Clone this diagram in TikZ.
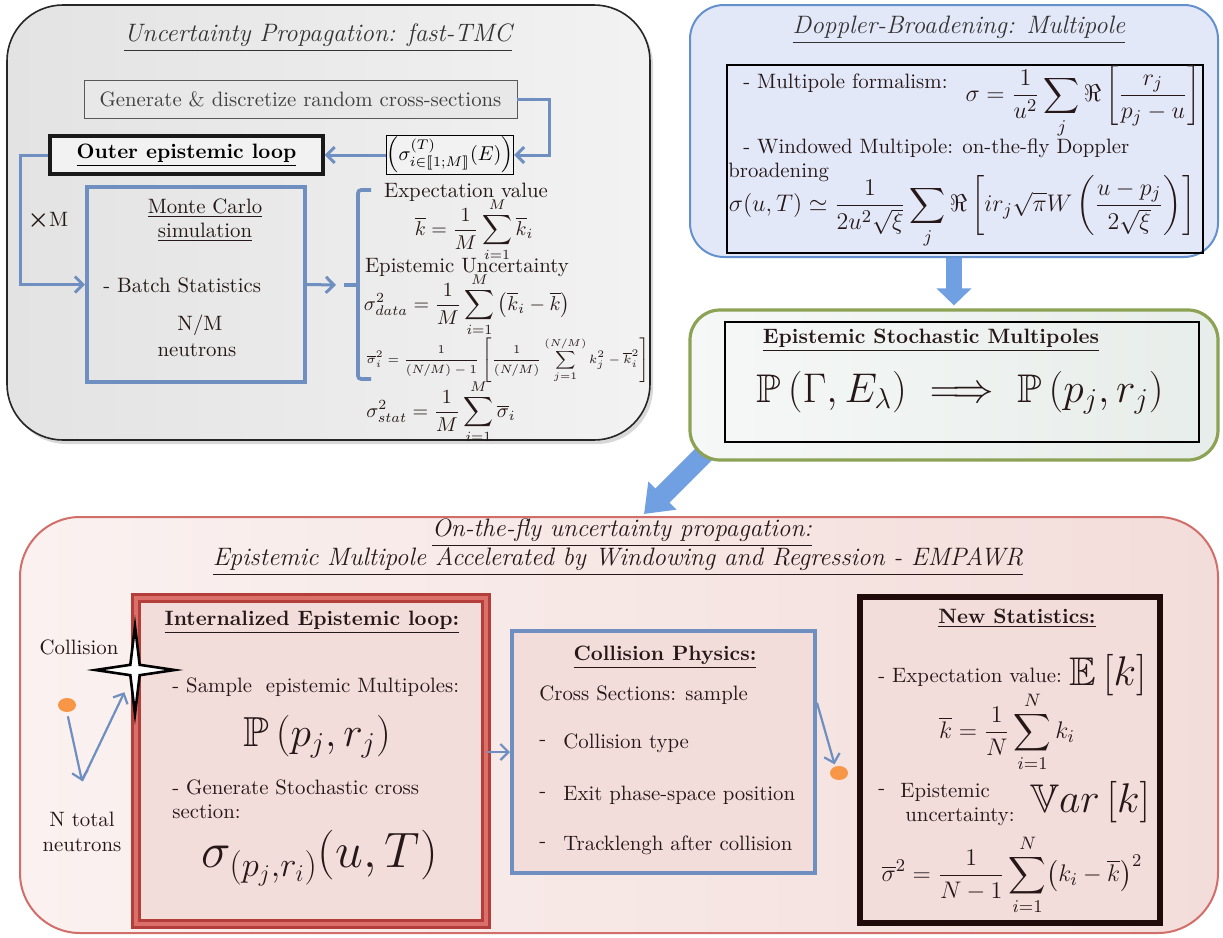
\documentclass[tikz,border=0pt]{standalone}
\usepackage{amsmath,amssymb,stmaryrd}
\usetikzlibrary{arrows.meta,shapes.geometric,calc,shadows,backgrounds}
\definecolor{mblue}{RGB}{110,143,192}
\definecolor{fatblue}{RGB}{112,160,225}
\definecolor{dopfill}{RGB}{227,232,249}
\definecolor{dopborder}{RGB}{100,145,205}
\definecolor{greenborder}{RGB}{140,162,85}
\definecolor{greenfill}{RGB}{231,237,234}
\definecolor{pinkfill}{RGB}{243,221,218}
\definecolor{pinkborder}{RGB}{210,110,105}
\definecolor{redbox}{RGB}{180,62,58}
\definecolor{redlight}{RGB}{218,112,105}
\definecolor{dotorange}{RGB}{246,150,70}
\definecolor{txt}{RGB}{38,24,24}
\definecolor{nsblack}{RGB}{32,10,10}
\newcommand{\basefs}{\fontsize{10.4}{12.5}\selectfont}
\newcommand{\titlefs}{\fontsize{12.6}{15}\selectfont\itshape}
\tikzset{
  lbl/.style={inner sep=0pt, text=txt, font=\basefs},
  lblb/.style={inner sep=0pt, text=txt, font=\basefs\bfseries},
  ttl/.style={inner sep=0pt, font=\titlefs, text=black!80},
  arr/.style={draw=mblue, line width=1.5pt, -{Straight Barb[length=4pt,width=8pt]}},
  arrthin/.style={draw=mblue, line width=1.1pt, -{Straight Barb[length=4pt,width=8pt]}},
  fatarrow/.style={draw=fatblue},
  bluebox/.style={draw=mblue, line width=2pt, inner sep=0pt},
  blackbox/.style={draw=black, line width=1pt, inner sep=0pt},
  bigmath/.style={inner sep=0pt, text=txt, font=\fontsize{21}{25}\selectfont},
}
\begin{document}
\begin{tikzpicture}[x=0.5pt,y=-0.5pt]
\useasboundingbox (0,0) rectangle (1223,938);

% ---------------- top-left panel ----------------
\node[draw=black!85, line width=0.8pt, rounded corners=28pt, minimum width=321.5pt, minimum height=217.5pt,
      left color=black!11, right color=black!5,
      drop shadow={shadow xshift=1.5pt,shadow yshift=-2pt,opacity=0.3}] (tl) at (328.5,222.5) {};
\node[ttl] (tlt) at (318,38) {\underline{Uncertainty Propagation: fast-TMC}};
\node[draw=black!65, fill=black!9, minimum width=216.5pt, minimum height=19pt, inner sep=0pt, text=black!75, font=\basefs] (gen) at (300.5,99) {Generate \& discretize random cross-sections};
\node[draw=black, line width=0.6pt, fill=black!5, minimum width=60pt, minimum height=19.5pt, inner sep=0pt] (sig) at (450,155) {$\left(\sigma^{(T)}_{i\in\llbracket 1;M\rrbracket}(E)\right)$};
\node[draw=black!90, line width=1.6pt, fill=black!5, minimum width=136.5pt, minimum height=19pt, inner sep=0pt, font=\basefs\bfseries] (outer) at (186.5,155) {\underline{Outer epistemic loop}};
\node[bluebox, minimum width=109pt, minimum height=97.5pt] (mc) at (196,284.5) {};
\draw[arr] (gen.east) -- ++(32,0) |- (sig.east);
\draw[arr] (sig.west) -- (outer.east);
\draw[arr] (outer.west) -- ++(-28,0) |- (mc.west);
\node[lbl] (xm) at (48,220) {{\fontsize{13}{13}\selectfont$\boldsymbol{\times}$}M};
\node[lbl] (mc1) at (205,208) {\underline{Monte Carlo}};
\node[lbl] (mc2) at (205,232) {\underline{simulation}};
\node[lbl, anchor=west] (mc3) at (103,285) {- Batch Statistics};
\node[lbl] (mc4) at (200,325) {N/M};
\node[lbl] (mc5) at (197,350) {neutrons};
\coordinate (brtip) at (344,285);
\draw[arr] (mc.east) -- ($(brtip)+(-8,0)$);
\draw[mblue, line width=1.8pt, rounded corners=1.5pt] (371,190) -- (358,190) -- (358,379) -- (371,379);
\draw[mblue, line width=1.8pt] (358,285) -- (brtip);
\node[lbl] (ev) at (466,192) {Expectation value};
\node[lbl] (f1) at (474,230) {$\displaystyle \overline{k}=\frac{1}{M}\sum_{i=1}^{M}\overline{k}_i$};
\node[lbl] (eu) at (467,268) {Epistemic Uncertainty};
\node[lbl] (f2) at (467,305) {$\displaystyle \sigma^2_{data}=\frac{1}{M}\sum_{i=1}^{M}\left(\overline{k}_i-\overline{k}\right)$};
\node[lbl, font=\fontsize{6.3}{7.5}\selectfont] (f3) at (508,360) {$\displaystyle \overline{\sigma}_i^2=\frac{1}{(N/M)-1}\left[\frac{1}{(N/M)}\sum_{j=1}^{(N/M)}k_j^2-\overline{k}_i^2\right]$};
\node[lbl] (f4) at (441,412) {$\displaystyle \sigma^2_{stat}=\frac{1}{M}\sum_{i=1}^{M}\overline{\sigma}_i$};

% ---------------- top-right panel ----------------
\node[draw=dopborder, line width=1pt, fill=dopfill, rounded corners=17pt, minimum width=264pt, minimum height=126pt] (dop) at (954,131) {};
\node[ttl] (dopt) at (959,30) {\underline{Doppler-Broadening: Multipole}};
\node[blackbox, minimum width=238pt, minimum height=94pt] (dopin) at (965,159) {};
\node[lbl, anchor=west] (d1) at (743,83) {- Multipole formalism:};
\node[lbl, font=\fontsize{12.5}{15}\selectfont] (d2) at (1083,102) {$\displaystyle\sigma=\frac{1}{u^2}\sum_j\Re\left[\frac{r_j}{p_j-u}\right]$};
\node[lbl, anchor=west] (d3) at (743,148) {- Windowed Multipole: on-the-fly Doppler};
\node[lbl, anchor=west] (d4) at (728,172) {broadening};
\node[lbl, font=\fontsize{12.5}{15}\selectfont] (d5) at (962,212) {$\displaystyle\sigma(u,T)\simeq\frac{1}{2u^2\sqrt{\xi}}\sum_j\Re\left[ir_j\sqrt{\pi}W\left(\frac{u-p_j}{2\sqrt{\xi}}\right)\right]$};

% ---------------- middle-right panel ----------------
\node[draw=greenborder, line width=1.6pt, rounded corners=15pt, minimum width=264pt, minimum height=75pt,
      left color=greenfill!40!white, right color=greenfill] (mr) at (954,385) {};
\node[blackbox, minimum width=237pt, minimum height=60pt] (esm) at (962,382) {};
\node[lblb] (esmt) at (931,340) {\underline{Epistemic Stochastic Multipoles}};
\node[lbl, font=\fontsize{20}{24}\selectfont] (esmf) at (960,393) {$\mathbb{P}\left(\Gamma,E_\lambda\right)\implies\mathbb{P}\left(p_j,r_j\right)$};

% ---------------- bottom panel ----------------
\node[draw=pinkborder, line width=1pt, rounded corners=30pt, minimum width=599pt, minimum height=208pt,
      left color=pinkfill!40!white, middle color=pinkfill, right color=pinkfill] (bot) at (619,725) {};
\node[ttl, text=txt] (bt1) at (622,533) {\underline{On-the-fly uncertainty propagation:}};
\node[ttl, text=txt] (bt2) at (618,562) {\underline{Epistemic Multipole Accelerated by Windowing and Regression - EMPAWR}};

% internalized loop
\node[draw=redbox, double=redlight, double distance=2pt, line width=1.3pt, fill=pinkfill, minimum width=175pt, minimum height=163pt] (iel) at (311,761) {};
\node[lblb] (ielt) at (312,622) {\underline{Internalized Epistemic loop:}};
\node[lbl, anchor=west] (iel1) at (172,687) {- Sample\ \ epistemic Multipoles:};
\node[bigmath] (iel2) at (317,737) {$\mathbb{P}\left(p_j,r_j\right)$};
\node[lbl, anchor=west] (iel3) at (172,787) {- Generate Stochastic cross};
\node[lbl, anchor=west] (iel4) at (172,812) {section:};
\node[bigmath, font=\fontsize{24.5}{28}\selectfont] (iel5) at (320,858) {$\sigma_{(p_j,r_i)}(u,T)$};

% collision star, particle
\node[lbl] (coll) at (79,647) {Collision};
\node[star, star points=4, star point ratio=6, draw=black, line width=1.3pt, fill=white, minimum size=44pt, inner sep=0pt, xscale=0.9] (star) at (135,670) {};
\node[ellipse, fill=dotorange, minimum width=9pt, minimum height=7pt, inner sep=0pt] (dot1) at (67,705) {};
\coordinate (bounce) at (82,781);
\draw[arrthin, shorten <=2pt] (dot1.south) -- (bounce);
\draw[arrthin] (bounce) -- ($(star.center)!0.2!(bounce)$);
\node[lbl, align=center] (ntot) at (82,832) {N total\\neutrons};

% collision physics
\node[bluebox, fill=pinkfill, minimum width=151.5pt, minimum height=121pt] (cp) at (663.5,752) {};
\draw[arrthin] (iel.east |- cp.west) -- (cp.west);
\node[lblb] (cpt) at (665,657) {\underline{Collision Physics:}};
\node[lbl, anchor=west] (cp1) at (539,695) {Cross Sections: sample};
\node[lbl, anchor=west] (cp2a) at (539,743) {-};
\node[lbl, anchor=west] (cp2) at (563,743) {Collision type};
\node[lbl, anchor=west] (cp3a) at (539,795) {-};
\node[lbl, anchor=west] (cp3) at (563,795) {Exit phase-space position};
\node[lbl, anchor=west] (cp4a) at (539,845) {-};
\node[lbl, anchor=west] (cp4) at (563,845) {Tracklengh after collision};
\node[ellipse, fill=dotorange, minimum width=9pt, minimum height=7pt, inner sep=0pt] (dot2) at (839,773) {};
\coordinate (cpx) at ($(cp.north east)!0.3!(cp.south east)$);
\draw[arrthin, shorten >=1pt] (cpx) -- (dot2.120);

% new statistics
\node[draw=nsblack, line width=3pt, fill=pinkfill, minimum width=150pt, minimum height=163pt] (ns) at (1010,760) {};
\node[lblb] (nst) at (1017,618) {\underline{New Statistics:}};
\node[lbl, anchor=west] (ns1) at (878,677) {- Expectation value:};
\node[bigmath, font=\fontsize{20}{24}\selectfont] (ns2) at (1108,675) {$\mathbb{E}\left[k\right]$};
\node[lbl, font=\fontsize{13}{15}\selectfont] (ns3) at (1007,732) {$\displaystyle\overline{k}=\frac{1}{N}\sum_{i=1}^{N}k_i$};
\node[lbl, anchor=west] (ns4a) at (878,792) {-};
\node[lbl, anchor=west] (ns4) at (900,792) {Epistemic};
\node[lbl, anchor=west] (ns5) at (905,817) {uncertainty:};
\node[bigmath, font=\fontsize{20}{24}\selectfont] (ns6) at (1090,802) {$\mathbb{V}ar\left[k\right]$};
\node[lbl, font=\fontsize{13}{16}\selectfont] (ns7) at (1012,875) {$\displaystyle\overline{\sigma}^2=\frac{1}{N-1}\sum_{i=1}^{N}\bigl(k_i-\overline{k}\bigr)^2$};

% ---------------- background: white page and fat arrows ----------------
\begin{pgfonlayer}{background}
\fill[white] (0,0) rectangle (1223,938);
\draw[fatarrow, line width=8pt, -{Triangle[length=8.5pt,width=17pt]}] (dop.south) -- ($(mr.north)+(0,-3)$);
\coordinate (dgs) at ($(mr.south west)+(18,-10)$);
\draw[fatarrow, line width=10pt, -{Triangle[length=13pt,width=19pt]}] (dgs) -- ($(bot.north west)+(625,-2)$);
\end{pgfonlayer}
\end{tikzpicture}
\end{document}
